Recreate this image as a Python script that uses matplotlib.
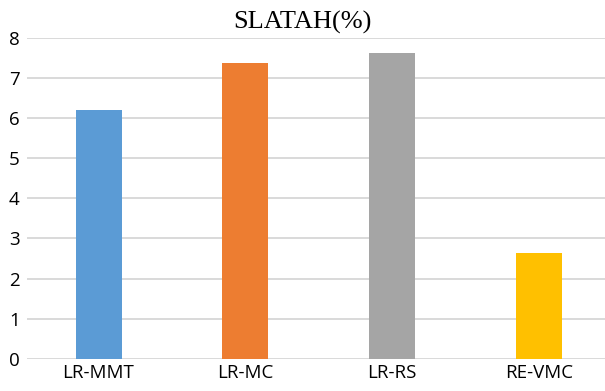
import matplotlib
matplotlib.use("Agg")
import matplotlib.pyplot as plt

methods = ["LR-MMT", "LR-MC", "LR-RS", "RE-VMC"]
slatah = [6.2, 7.36, 7.61, 2.64]
colors = ["#5B9BD5", "#ED7D31", "#A5A5A5", "#FFC000"]
yticks = [0, 1, 2, 3, 4, 5, 6, 7, 8]

fig = plt.figure(figsize=(6.05, 3.91), dpi=100)
ax = fig.add_axes([0.044, 0.082, 0.956, 0.8216])

x = range(len(methods))
ax.bar(x, slatah, width=0.313, color=colors, zorder=3)

ax.set_xlim(-0.49, 3.45)
ax.set_ylim(0, 8)
ax.set_yticks(yticks)
ax.set_xticks(list(x))
ax.set_xticklabels(methods, fontfamily="Open Sans", fontsize=13.5, fontweight="medium")
for lbl in ax.get_yticklabels():
    lbl.set_fontfamily("Open Sans")
    lbl.set_fontsize(13.5)
    lbl.set_fontweight("medium")

ax.tick_params(axis="both", length=0)
ax.tick_params(axis="y", pad=5)
ax.tick_params(axis="x", pad=4)
ax.grid(axis="y", color="#D9D9D9", linewidth=1.4, zorder=0)
for s in ax.spines.values():
    s.set_visible(False)

fig.text(0.5, 0.972, "SLATAH(%)", ha="center", va="top",
         fontfamily="Liberation Serif", fontsize=19)

fig.savefig("out.png", dpi=100)
